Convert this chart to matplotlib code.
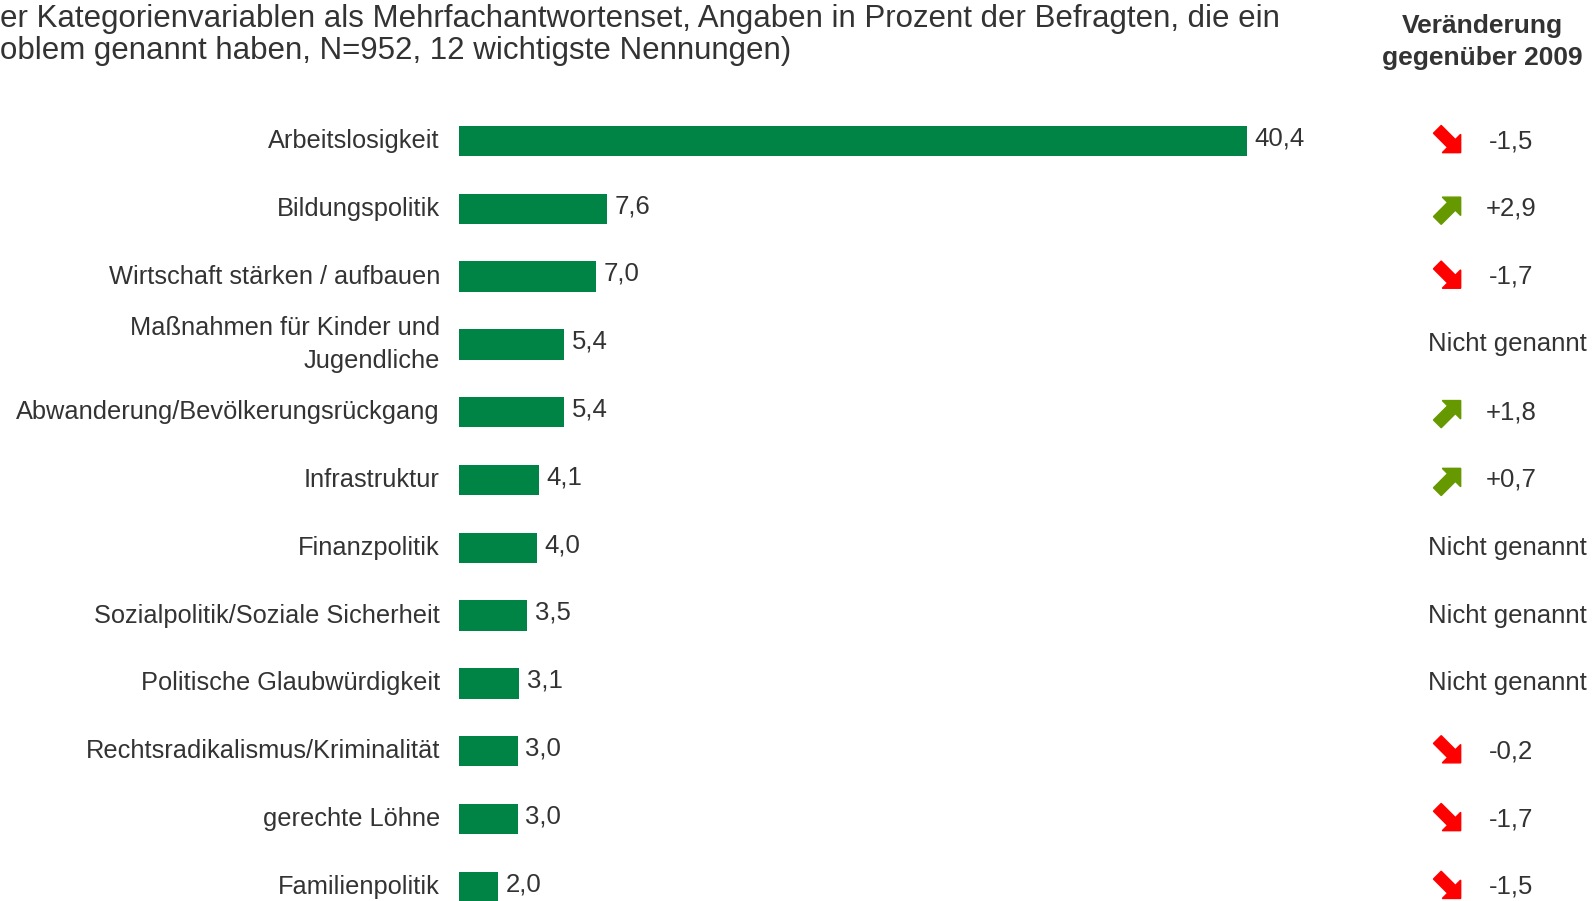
import matplotlib.pyplot as plt
import matplotlib.transforms as mtransforms
from matplotlib.patches import Polygon

# ------------------------------------------------------------------
# Data
# ------------------------------------------------------------------
categories = [
    "Arbeitslosigkeit",
    "Bildungspolitik",
    "Wirtschaft stärken / aufbauen",
    "Maßnahmen für Kinder und\nJugendliche",
    "Abwanderung/Bevölkerungsrückgang",
    "Infrastruktur",
    "Finanzpolitik",
    "Sozialpolitik/Soziale Sicherheit",
    "Politische Glaubwürdigkeit",
    "Rechtsradikalismus/Kriminalität",
    "gerechte Löhne",
    "Familienpolitik",
]
values = [40.4, 7.6, 7.0, 5.4, 5.4, 4.1, 4.0, 3.5, 3.1, 3.0, 3.0, 2.0]
# None = "Nicht genannt"
changes = [-1.5, 2.9, -1.7, None, 1.8, 0.7, None, None, None, -0.2, -1.7, -1.5]

title_lines = [
    "er Kategorienvariablen als Mehrfachantwortenset, Angaben in Prozent der Befragten, die ein",
    "oblem genannt haben, N=952, 12 wichtigste Nennungen)",
]
header = "Veränderung\ngegenüber 2009"

BAR_COLOR = "#008445"
TEXT_COLOR = "#333333"
UP_COLOR = "#669900"
DOWN_COLOR = "#FF0000"


def fmt(v, sign=False):
    s = f"{v:+.1f}" if sign else f"{v:.1f}"
    return s.replace(".", ",")


def draw_arrow(fig, anchor, up, color):
    # fat arrow, built along +x then rotated +/-45 degrees (pixel units)
    L, t, h = 33, 5.5, 13
    verts = [(-L / 2, -t), (L / 2 - h, -t), (L / 2 - h, -h), (L / 2, 0),
             (L / 2 - h, h), (L / 2 - h, t), (-L / 2, t)]
    ang = 45 if up else -45
    tr = mtransforms.Affine2D().rotate_deg(ang).translate(*anchor)
    fig.patches.append(Polygon(verts, closed=True, color=color, transform=tr,
                               figure=fig))


def main():
    plt.rcParams["font.family"] = ["Liberation Sans", "DejaVu Sans"]
    W, H, dpi = 1594, 901, 100
    fig = plt.figure(figsize=(W / dpi, H / dpi), dpi=dpi)

    bar_x0 = 459        # pixel where the bars start
    px_per_unit = 19.5
    first_y, step = 141, 67.8

    ax = fig.add_axes([bar_x0 / W, 0, 1 - bar_x0 / W, 1])
    ax.set_xlim(0, (W - bar_x0) / px_per_unit)
    ax.set_ylim((H - first_y) / step, -first_y / step)
    ax.axis("off")

    ypos = list(range(len(categories)))
    ax.barh(ypos, values, height=0.45, color=BAR_COLOR)

    for i, (cat, v) in enumerate(zip(categories, values)):
        ax.text(-0.98, i, cat, ha="right", va="center", fontsize=18.3,
                color=TEXT_COLOR, linespacing=1.5)
        ax.text(v + 0.4, i - 0.04, fmt(v), ha="left", va="center",
                fontsize=18.5, color=TEXT_COLOR)

    # change column
    trans = mtransforms.blended_transform_factory(fig.transFigure, ax.transData)
    arrow_x, val_x = 1449 / W, 1511 / W
    for i, c in enumerate(changes):
        if c is None:
            ax.text(1507 / W, i, "Nicht genannt", transform=trans, ha="center",
                    va="center", fontsize=18.5, color=TEXT_COLOR)
            continue
        ax.text(val_x, i, fmt(c, sign=c > 0), transform=trans, ha="center",
                va="center", fontsize=18.5, color=TEXT_COLOR)
        anchor = trans.transform((arrow_x, i))
        draw_arrow(fig, anchor, c > 0, UP_COLOR if c > 0 else DOWN_COLOR)

    fig.text(1482 / W, 1 - 42 / H, header, ha="center", va="center",
             fontsize=19, fontweight="bold", color=TEXT_COLOR, linespacing=1.4)

    for k, line in enumerate(title_lines):
        fig.text(0, 1 - (19.5 + 31 * k) / H, line, ha="left", va="center",
                 fontsize=22.5, color=TEXT_COLOR)

    fig.savefig("out.png", dpi=dpi)


if __name__ == "__main__":
    main()
